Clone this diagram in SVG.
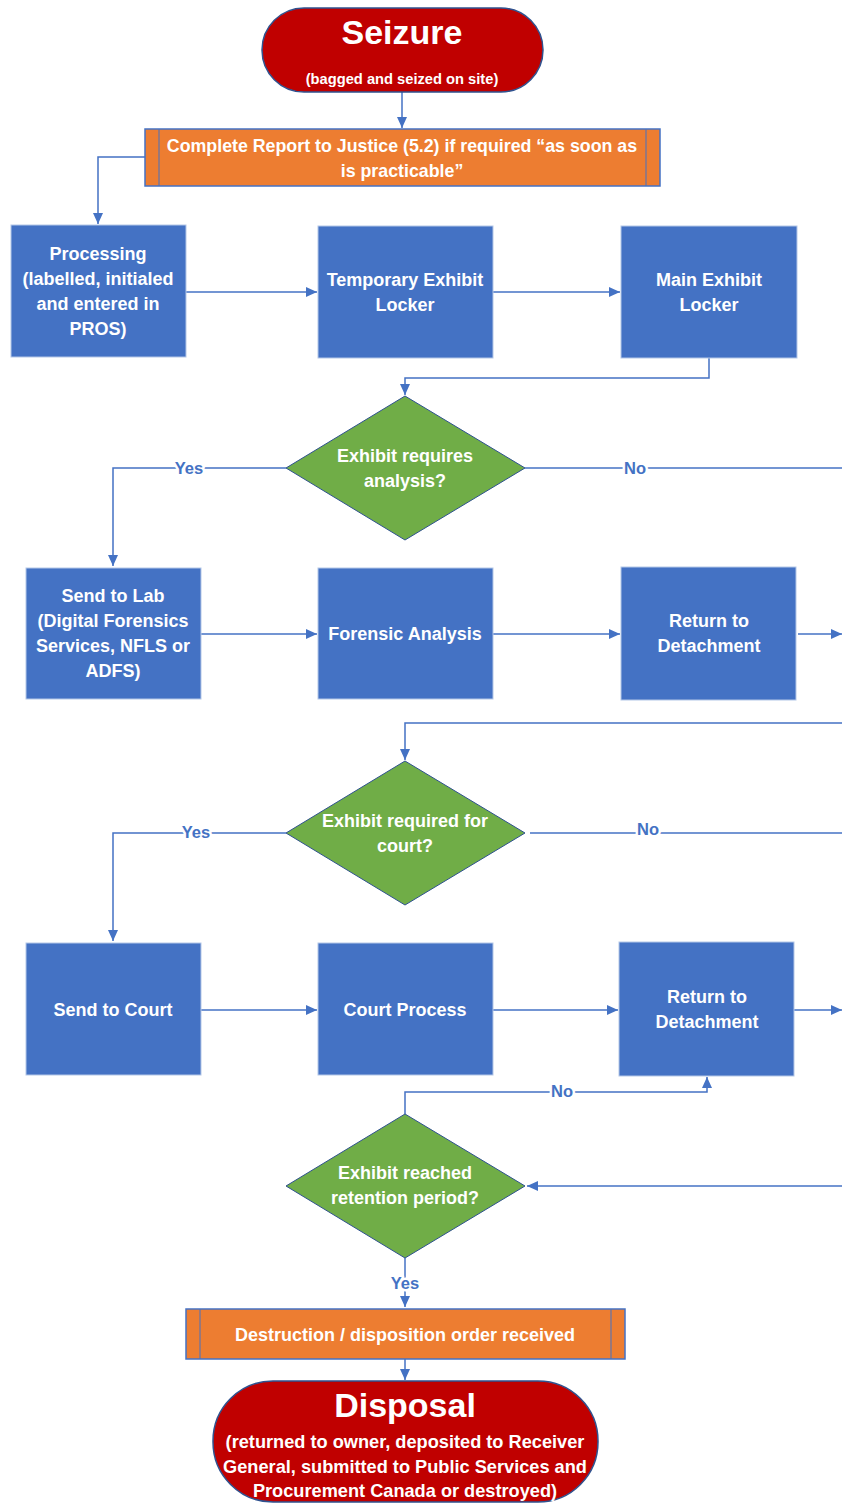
<svg xmlns="http://www.w3.org/2000/svg" width="842" height="1503" viewBox="0 0 842 1503">
<style>
text{font-family:"Liberation Sans",Arial,sans-serif;font-weight:bold;text-anchor:middle;fill:#fff}
.box{fill:#4472C4;stroke:#B4C7E7;stroke-width:1}
.dia{fill:#70AD47;stroke:#2F528F;stroke-width:1}
.term{fill:#C00000;stroke:#2F528F;stroke-width:1.5}
.pre{fill:#ED7D31;stroke:#4472C4;stroke-width:1.5}
.t{font-size:18px}
.c{fill:none;stroke:#4472C4;stroke-width:1.5}
.a{marker-end:url(#ah)}
.lbl{font-size:16.5px;fill:#4472C4;stroke:#fff;stroke-width:5;paint-order:stroke;stroke-linejoin:round}
</style>
<defs>
<marker id="ah" markerUnits="userSpaceOnUse" markerWidth="12" markerHeight="10" refX="11" refY="5" orient="auto">
<path d="M0,0 L11,5 L0,10 z" fill="#4472C4"/>
</marker>
</defs>
<rect width="842" height="1503" fill="#fff"/>

<g id="connectors">
<path class="c a" d="M402,92 V128"/>
<path class="c a" d="M145,157 H98 V224"/>
<path class="c a" d="M186,292 H317"/>
<path class="c a" d="M493,292 H620"/>
<path class="c a" d="M709,358 V378 H405 V395"/>
<path class="c a" d="M286,468 H113 V566"/>
<path class="c" d="M525,468 H842"/>
<path class="c a" d="M201,634 H317"/>
<path class="c a" d="M493,634 H620"/>
<path class="c a" d="M798,634 H842"/>
<path class="c a" d="M842,723 H405 V760"/>
<path class="c a" d="M286,833 H113 V941"/>
<path class="c" d="M530,833 H842"/>
<path class="c a" d="M201,1010 H317"/>
<path class="c a" d="M493,1010 H618"/>
<path class="c a" d="M794,1010 H842"/>
<path class="c a" d="M405,1114 V1092 H707 V1077"/>
<path class="c a" d="M842,1186 H527"/>
<path class="c a" d="M405,1258 V1307"/>
<path class="c a" d="M405,1359 V1380"/>
<text class="lbl" x="189" y="474">Yes</text>
<text class="lbl" x="635" y="474">No</text>
<text class="lbl" x="196" y="838">Yes</text>
<text class="lbl" x="648" y="835">No</text>
<text class="lbl" x="562" y="1097">No</text>
<text class="lbl" x="405" y="1289">Yes</text>
</g>

<g id="seizure">
<rect class="term" x="262" y="8" width="281" height="84" rx="42"/>
<text x="402" y="44" style="font-size:34px">Seizure</text>
<text x="402" y="84" style="font-size:14.7px">(bagged and seized on site)</text>
</g>

<g id="report">
<rect class="pre" x="145" y="129" width="515" height="57"/>
<line x1="159" y1="129" x2="159" y2="186" stroke="#4472C4" stroke-width="1"/>
<line x1="646" y1="129" x2="646" y2="186" stroke="#4472C4" stroke-width="1"/>
<text x="402" y="152" style="font-size:17.8px">Complete Report to Justice (5.2) if required “as soon as</text>
<text x="402" y="177" style="font-size:17.8px">is practicable”</text>
</g>

<g id="processing">
<rect class="box" x="11" y="225" width="175" height="132"/>
<text class="t" x="98" y="260">Processing</text>
<text class="t" x="98" y="285">(labelled, initialed</text>
<text class="t" x="98" y="310">and entered in</text>
<text class="t" x="98" y="335">PROS)</text>
</g>

<g id="temp-locker">
<rect class="box" x="318" y="226" width="175" height="132"/>
<text class="t" x="405" y="286">Temporary Exhibit</text>
<text class="t" x="405" y="311">Locker</text>
</g>

<g id="main-locker">
<rect class="box" x="621" y="226" width="176" height="132"/>
<text class="t" x="709" y="286">Main Exhibit</text>
<text class="t" x="709" y="311">Locker</text>
</g>

<g id="decision-analysis">
<polygon class="dia" points="405,396 525,468 405,540 286,468"/>
<text class="t" x="405" y="462">Exhibit requires</text>
<text class="t" x="405" y="487">analysis?</text>
</g>

<g id="send-lab">
<rect class="box" x="26" y="568" width="175" height="131"/>
<text class="t" x="113" y="602">Send to Lab</text>
<text class="t" x="113" y="627">(Digital Forensics</text>
<text class="t" x="113" y="652">Services, NFLS or</text>
<text class="t" x="113" y="677">ADFS)</text>
</g>

<g id="forensic">
<rect class="box" x="318" y="568" width="175" height="131"/>
<text class="t" x="405" y="640">Forensic Analysis</text>
</g>

<g id="return-1">
<rect class="box" x="621" y="567" width="175" height="133"/>
<text class="t" x="709" y="627">Return to</text>
<text class="t" x="709" y="652">Detachment</text>
</g>

<g id="decision-court">
<polygon class="dia" points="405,761 525,833 405,905 286,833"/>
<text class="t" x="405" y="827">Exhibit required for</text>
<text class="t" x="405" y="852">court?</text>
</g>

<g id="send-court">
<rect class="box" x="26" y="943" width="175" height="132"/>
<text class="t" x="113" y="1016">Send to Court</text>
</g>

<g id="court-process">
<rect class="box" x="318" y="943" width="175" height="132"/>
<text class="t" x="405" y="1016">Court Process</text>
</g>

<g id="return-2">
<rect class="box" x="619" y="942" width="175" height="134"/>
<text class="t" x="707" y="1003">Return to</text>
<text class="t" x="707" y="1028">Detachment</text>
</g>

<g id="decision-retention">
<polygon class="dia" points="405,1114 525,1186 405,1258 286,1186"/>
<text class="t" x="405" y="1179">Exhibit reached</text>
<text class="t" x="405" y="1204">retention period?</text>
</g>

<g id="destruction">
<rect class="pre" x="186" y="1309" width="439" height="50"/>
<line x1="200" y1="1309" x2="200" y2="1359" stroke="#4472C4" stroke-width="1"/>
<line x1="611" y1="1309" x2="611" y2="1359" stroke="#4472C4" stroke-width="1"/>
<text x="405" y="1341" style="font-size:18px">Destruction / disposition order received</text>
</g>

<g id="disposal">
<rect class="term" x="213" y="1381" width="385" height="121" rx="60"/>
<text x="405" y="1417" style="font-size:34px">Disposal</text>
<text x="405" y="1448" style="font-size:18.2px">(returned to owner, deposited to Receiver</text>
<text x="405" y="1473" style="font-size:18.2px">General, submitted to Public Services and</text>
<text x="405" y="1497" style="font-size:18.2px">Procurement Canada or destroyed)</text>
</g>
</svg>
